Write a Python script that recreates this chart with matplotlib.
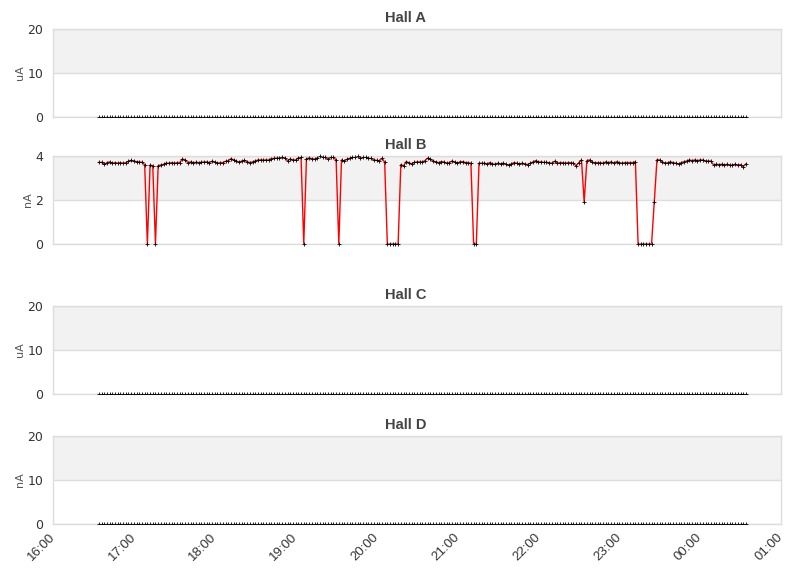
import numpy as np
import pandas as pd
import matplotlib
matplotlib.use("Agg")
import matplotlib.pyplot as plt
import matplotlib.dates as mdates

# samples every 2 minutes, 16:34 -> 00:34
start = "2024-01-01 16:34"
n_points = 241
times = pd.date_range(start, periods=n_points, freq="2min")

hall_b = [
    3.71, 3.71, 3.62, 3.70, 3.73, 3.67, 3.70, 3.67, 3.70, 3.67,
    3.70, 3.76, 3.80, 3.77, 3.74, 3.73, 3.71, 3.61, 0.00, 3.58,
    3.56, 0.00, 3.56, 3.59, 3.62, 3.67, 3.67, 3.70, 3.67, 3.70,
    3.70, 3.86, 3.82, 3.70, 3.73, 3.70, 3.71, 3.70, 3.71, 3.73,
    3.73, 3.70, 3.76, 3.73, 3.67, 3.70, 3.70, 3.76, 3.79, 3.88,
    3.82, 3.77, 3.71, 3.77, 3.80, 3.74, 3.70, 3.73, 3.77, 3.82,
    3.82, 3.82, 3.82, 3.82, 3.88, 3.89, 3.91, 3.91, 3.94, 3.91,
    3.79, 3.86, 3.82, 3.82, 3.91, 3.94, 0.00, 3.88, 3.91, 3.88,
    3.86, 3.91, 4.01, 3.94, 3.94, 3.85, 3.94, 3.94, 3.82, 0.00,
    3.82, 3.77, 3.85, 3.89, 3.94, 3.97, 4.01, 3.89, 3.94, 3.94,
    3.89, 3.89, 3.82, 3.80, 3.77, 3.89, 3.73, 0.00, 0.00, 0.00,
    0.00, 0.00, 3.61, 3.55, 3.74, 3.70, 3.64, 3.71, 3.73, 3.73,
    3.73, 3.79, 3.91, 3.85, 3.77, 3.73, 3.70, 3.74, 3.73, 3.67,
    3.70, 3.77, 3.73, 3.67, 3.74, 3.74, 3.70, 3.70, 3.67, 0.00,
    0.00, 3.67, 3.67, 3.67, 3.64, 3.70, 3.64, 3.62, 3.67, 3.64,
    3.67, 3.62, 3.58, 3.64, 3.70, 3.67, 3.64, 3.67, 3.64, 3.61,
    3.67, 3.73, 3.79, 3.73, 3.73, 3.71, 3.71, 3.70, 3.67, 3.76,
    3.67, 3.70, 3.70, 3.67, 3.70, 3.70, 3.67, 3.55, 3.70, 3.82,
    1.92, 3.79, 3.82, 3.71, 3.70, 3.70, 3.70, 3.67, 3.73, 3.70,
    3.73, 3.68, 3.74, 3.70, 3.67, 3.70, 3.70, 3.70, 3.70, 3.74,
    0.00, 0.00, 0.00, 0.00, 0.00, 0.00, 1.92, 3.83, 3.82, 3.73,
    3.67, 3.70, 3.73, 3.70, 3.67, 3.64, 3.70, 3.74, 3.77, 3.82,
    3.79, 3.82, 3.79, 3.82, 3.82, 3.77, 3.77, 3.77, 3.59, 3.62,
    3.61, 3.62, 3.59, 3.62, 3.58, 3.59, 3.62, 3.58, 3.61, 3.52,
    3.64,
]
hall_a = [0.0] * n_points
hall_c = [0.0] * n_points
hall_d = [0.0] * n_points

titles = ["Hall A", "Hall B", "Hall C", "Hall D"]
units = ["uA", "nA", "uA", "nA"]
series = [hall_a, hall_b, hall_c, hall_d]
y_max = [20, 4, 20, 20]
x_start = pd.Timestamp("2024-01-01 16:00")
x_end = pd.Timestamp("2024-01-02 01:00")

W, H = 811, 578
fig = plt.figure(figsize=(W / 100, H / 100), dpi=100)
fig.patch.set_facecolor("white")

# pixel boxes: (top, bottom)
boxes = [(29, 117), (156, 244), (306, 394), (436, 524)]
left, right = 53, 781

grid_col = "#dddddd"
band_col = "#f2f2f2"

for k in range(4):
    top, bot = boxes[k]
    ax = fig.add_axes([left / W, (H - bot) / H, (right - left) / W, (bot - top) / H])
    ym = y_max[k]
    ax.set_ylim(0, ym)
    ax.set_xlim(x_start, x_end)
    ax.axhspan(ym / 2, ym, color=band_col, zorder=0, lw=0)
    ax.set_yticks([0, ym / 2, ym])
    ax.set_yticklabels([str(int(v)) for v in [0, ym / 2, ym]])
    ax.grid(axis="y", color=grid_col, lw=1, zorder=0.5)
    ax.set_axisbelow(True)
    for s in ax.spines.values():
        s.set_color(grid_col)
        s.set_linewidth(1)
    ax.tick_params(axis="both", length=0, colors="#333333", labelsize=9)
    ax.tick_params(axis="y", pad=7)
    ax.set_ylabel(units[k], fontsize=8, color="#555555", labelpad=2)
    # titles are centred on the figure, not the axes
    ax.set_title(titles[k], fontsize=10.5, fontweight="bold", color="#444444",
                 family="Liberation Sans", pad=5, x=(W / 2 - left) / (right - left))

    if k == 1:
        ax.plot(times, series[k], color="red", lw=1, zorder=2)
    ax.plot(times, series[k], linestyle="none", marker="+", ms=2.5, mew=0.6,
            color="black", zorder=3, clip_on=(k != 1))

    ax.xaxis.set_major_locator(mdates.HourLocator())
    ax.xaxis.set_major_formatter(mdates.DateFormatter("%H:%M"))
    if k < 3:
        ax.tick_params(axis="x", labelbottom=False)
    else:
        for lab in ax.get_xticklabels():
            lab.set_rotation(45)
            lab.set_ha("right")
            lab.set_va("center")
            lab.set_rotation_mode("anchor")
            lab.set_family("Liberation Sans")
            lab.set_fontsize(9.5)
        ax.tick_params(axis="x", pad=8)

fig.savefig("out.png", dpi=100, facecolor="white")
